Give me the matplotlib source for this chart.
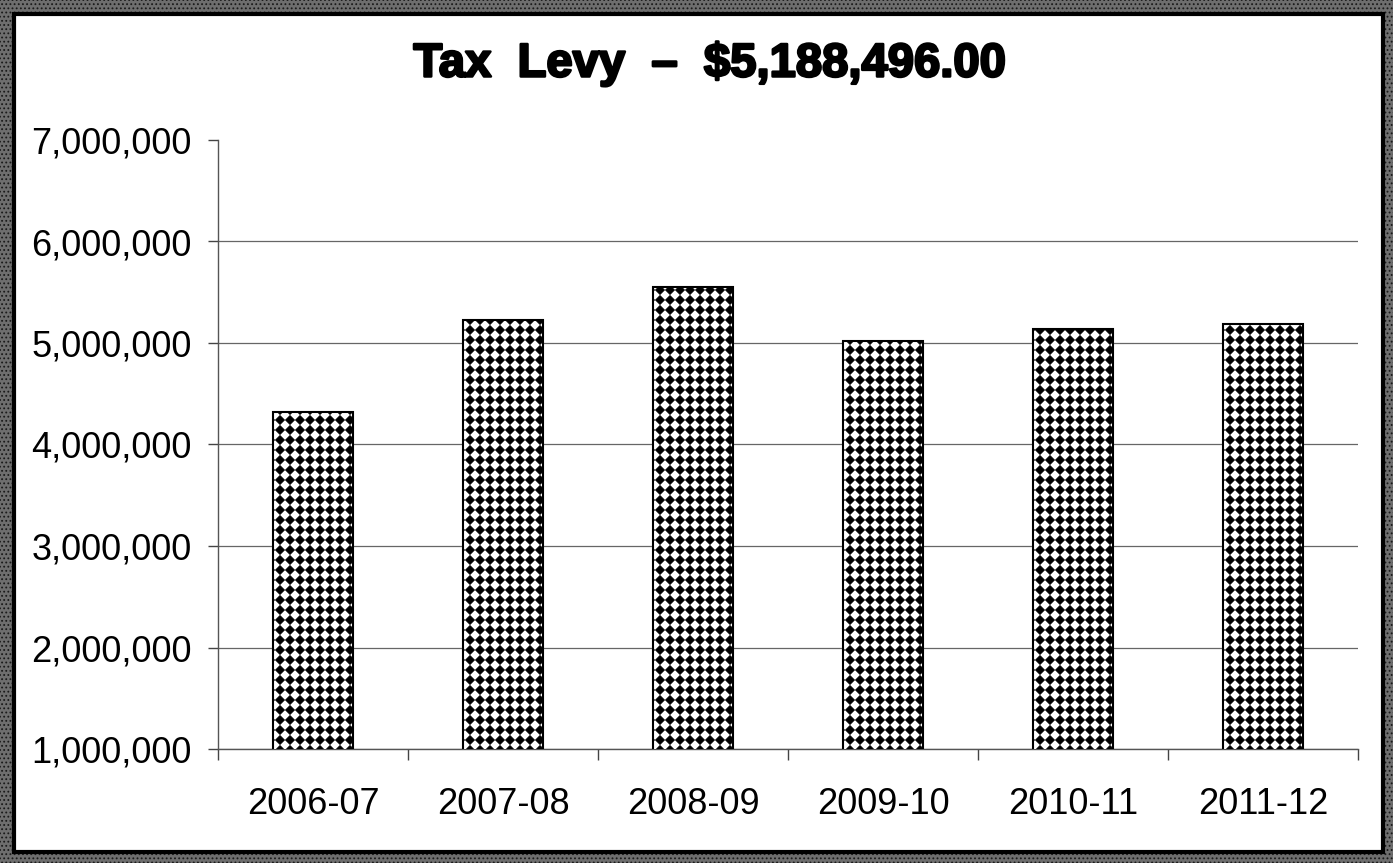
import numpy as np
import matplotlib
matplotlib.use("Agg")
import matplotlib.pyplot as plt
import matplotlib.hatch as mhatch
from matplotlib.path import Path
from matplotlib.patches import Rectangle
from matplotlib.ticker import FuncFormatter, FixedLocator
import matplotlib.patheffects as pe

# ---- data ----
years = ["2006-07", "2007-08", "2008-09", "2009-10", "2010-11", "2011-12"]
levy = [4320000, 5230000, 5550000, 5020000, 5140000, 5188496]
title_text = "Tax  Levy  \u2013  $5,188,496.00"
y_ticks = [1000000, 2000000, 3000000, 4000000, 5000000, 6000000, 7000000]


# ---- square grid of filled diamonds used as the bar fill pattern ('*') ----
class DiamondGrid(mhatch.HatchPatternBase):
    def __init__(self, hatch, density):
        self.num_rows = hatch.count('*') * 10
        self.num_vertices = (self.num_rows + 1) ** 2 * 5 if self.num_rows else 0

    def set_vertices_and_codes(self, vertices, codes):
        n = self.num_rows
        step = 1.0 / n
        r = 0.43 * step
        diamond = np.array([[0, r], [-r, 0], [0, -r], [r, 0], [0, r]])
        dcodes = [Path.MOVETO, Path.LINETO, Path.LINETO, Path.LINETO, Path.CLOSEPOLY]
        k = 0
        for i in range(n + 1):
            for j in range(n + 1):
                vertices[k:k + 5] = diamond + [j * step, i * step]
                codes[k:k + 5] = dcodes
                k += 5


mhatch._hatch_types[mhatch._hatch_types.index(mhatch.Stars)] = DiamondGrid

plt.rcParams['font.family'] = ['Liberation Sans', 'DejaVu Sans']
plt.rcParams['hatch.linewidth'] = 0.8
plt.rcParams['hatch.color'] = 'black'

W, H = 1393, 863
fig = plt.figure(figsize=(W / 100, H / 100), dpi=100)
fig.patch.set_facecolor('#6e6e6e')

# frame: grainy dark border around a white panel
fig.patches.append(Rectangle((0, 0), 1, 1, transform=fig.transFigure,
                             facecolor='#6e6e6e', edgecolor='#1a1a1a',
                             hatch='....', linewidth=0, zorder=0))
fig.patches.append(Rectangle((14 / W, 1 - 852 / H), (1383 - 14) / W, (852 - 14) / H,
                             transform=fig.transFigure, facecolor='white',
                             edgecolor='black', linewidth=3, zorder=1))

ax = fig.add_axes([218 / W, 1 - 749 / H, (1358 - 218) / W, (749 - 140) / H])
ax.set_facecolor('none')
ax.set_zorder(2)

x = np.arange(len(years))
ax.bar(x, levy, width=0.42, color='white', edgecolor='black', linewidth=1.5,
       hatch='*', zorder=3)

ax.set_xlim(-0.5, len(years) - 0.5)
ax.set_ylim(y_ticks[0], y_ticks[-1])
ax.set_yticks(y_ticks)
ax.yaxis.set_major_formatter(FuncFormatter(lambda v, p: f"{int(v):,}"))

ax.set_xticks(x)
ax.set_xticklabels(years)
ax.xaxis.set_minor_locator(FixedLocator(np.arange(-0.5, len(years), 1.0)))
ax.tick_params(axis='x', which='major', length=0, pad=27, labelsize=26, colors='black')
ax.tick_params(axis='x', which='minor', length=8, width=1, color='#444444', direction='out')
ax.tick_params(axis='y', which='major', length=7, width=1, color='#444444',
               pad=12, labelsize=26, labelcolor='black')

for s in ['top', 'right']:
    ax.spines[s].set_visible(False)
ax.spines['left'].set_color('#555555')
ax.spines['left'].set_linewidth(1)
ax.spines['bottom'].set_color('#555555')
ax.spines['bottom'].set_linewidth(1)

ax.yaxis.grid(True, color='#666666', linewidth=0.9, zorder=1)
ax.set_axisbelow(True)
gl = ax.yaxis.get_gridlines()
gl[-1].set_visible(False)

fig.text(710 / W, 1 - 64 / H, title_text, ha='center', va='center',
         fontsize=34, fontweight='bold', color='black', zorder=5,
         path_effects=[pe.withStroke(linewidth=1.8, foreground='black')])

fig.savefig('out.png', dpi=100, facecolor=fig.get_facecolor())
